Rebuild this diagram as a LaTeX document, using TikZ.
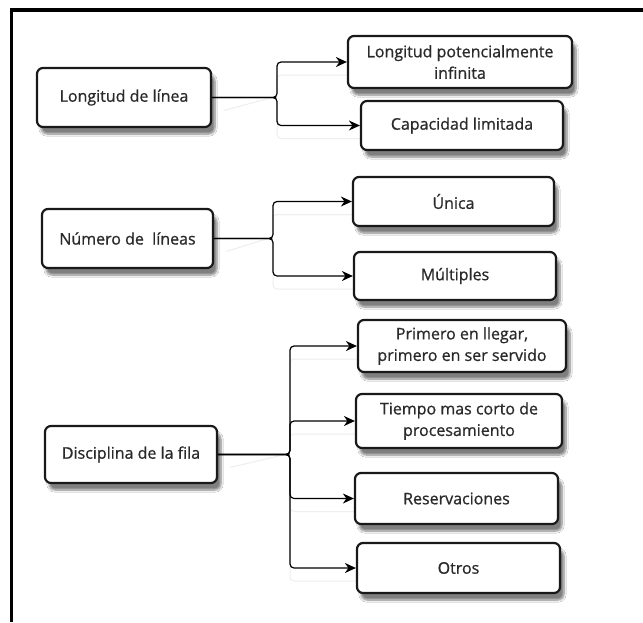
\documentclass[tikz,border=0pt]{standalone}
\usepackage{fontspec}
\setmainfont{Open Sans}
\newfontfamily\boxfont[FakeBold=0.8]{Open Sans}
\usetikzlibrary{arrows.meta,shadows.blur}
\definecolor{ink}{HTML}{2A2A2A}
\definecolor{faint}{HTML}{EEEEEE}
\tikzset{
  box/.style={draw=black!90, line width=2.2pt, rounded corners=6pt, fill=white,
    inner sep=0pt, align=center, text=ink,
    font=\boxfont\fontsize{16}{21.5}\selectfont,
    blur shadow={shadow xshift=4pt, shadow yshift=-7pt, shadow blur steps=7, shadow opacity=50}},
  link/.style={line width=1.2pt, rounded corners=4pt, -{Stealth[length=11pt,width=10pt,inset=3.5pt]}},
  linkshade/.style={line width=1pt, rounded corners=4pt, draw=faint},
  frameline/.style={line width=3.5pt, black}
}
\begin{document}
\begin{tikzpicture}[x=1pt,y=-1pt]
\useasboundingbox (0,0) rectangle (643,622);
\fill[white] (0,0) rectangle (643,622);

% outer frame: top and left edges only
\draw[frameline] (643,10) -- (11.5,10) -- (11.5,622);

% junction points of the three braces
\coordinate (j1) at (272,97.5);
\coordinate (j2) at (268,238.5);
\coordinate (j3) at (285,454.5);

% faint shadows of the connectors, drawn first so the boxes sit on top
\begin{scope}[shift={(13,13)}]
  \draw[linkshade] (211,97.5) -- (j1) -- ([xshift=5pt]j1) |- (348,62);
  \draw[linkshade] (j1) -- ([xshift=5pt]j1) |- (361,125.5);
  \draw[linkshade] (213,238.5) -- (j2) -- ([xshift=5pt]j2) |- (353,201.5);
  \draw[linkshade] (j2) -- ([xshift=5pt]j2) |- (354,276);
  \draw[linkshade] (217,454.5) -- (j3) -- ([xshift=5pt]j3) |- (358,346);
  \draw[linkshade] (j3) -- ([xshift=5pt]j3) |- (356,421);
  \draw[linkshade] (j3) -- ([xshift=5pt]j3) |- (355,498.5);
  \draw[linkshade] (j3) -- ([xshift=5pt]j3) |- (357,568);
\end{scope}

% ---- group 1 ----
\node[box, minimum width=174pt, minimum height=59pt] (n1) at (124,97.5) {Longitud de línea};
\node[box, minimum width=224pt, minimum height=52pt] (a1) at (460,62) {Longitud potencialmente\\infinita};
\node[box, minimum width=202pt, minimum height=49pt] (a2) at (462,125.5) {Capacidad limitada};

% ---- group 2 ----
\node[box, minimum width=171pt, minimum height=59pt] (n2) at (127.5,238.5) {Número de \ líneas};
\node[box, minimum width=201pt, minimum height=49pt] (b1) at (453.5,201.5) {Única};
\node[box, minimum width=202pt, minimum height=48pt] (b2) at (455,276) {Múltiples};

% ---- group 3 ----
\node[box, minimum width=172pt, minimum height=57pt] (n3) at (131,454.5) {Disciplina de la fila};
\node[box, minimum width=208pt, minimum height=52pt] (c1) at (462,346) {Primero en llegar,\\primero en ser servido};
\node[box, minimum width=206pt, minimum height=54pt] (c2) at (459,421) {Tiempo mas corto de\\procesamiento};
\node[box, minimum width=203pt, minimum height=51pt] (c3) at (456.5,498.5) {Reservaciones};
\node[box, minimum width=203pt, minimum height=50pt] (c4) at (458.5,568) {Otros};

% connectors: straight stem into a small brace, then out to each child
\foreach \p/\j/\c in {n1/j1/a1, n1/j1/a2, n2/j2/b1, n2/j2/b2, n3/j3/c1, n3/j3/c2, n3/j3/c3, n3/j3/c4}{
  \draw[link] (\p.east) -- (\j) -- ([xshift=5pt]\j) |- (\c.west);
}
\end{tikzpicture}
\end{document}
